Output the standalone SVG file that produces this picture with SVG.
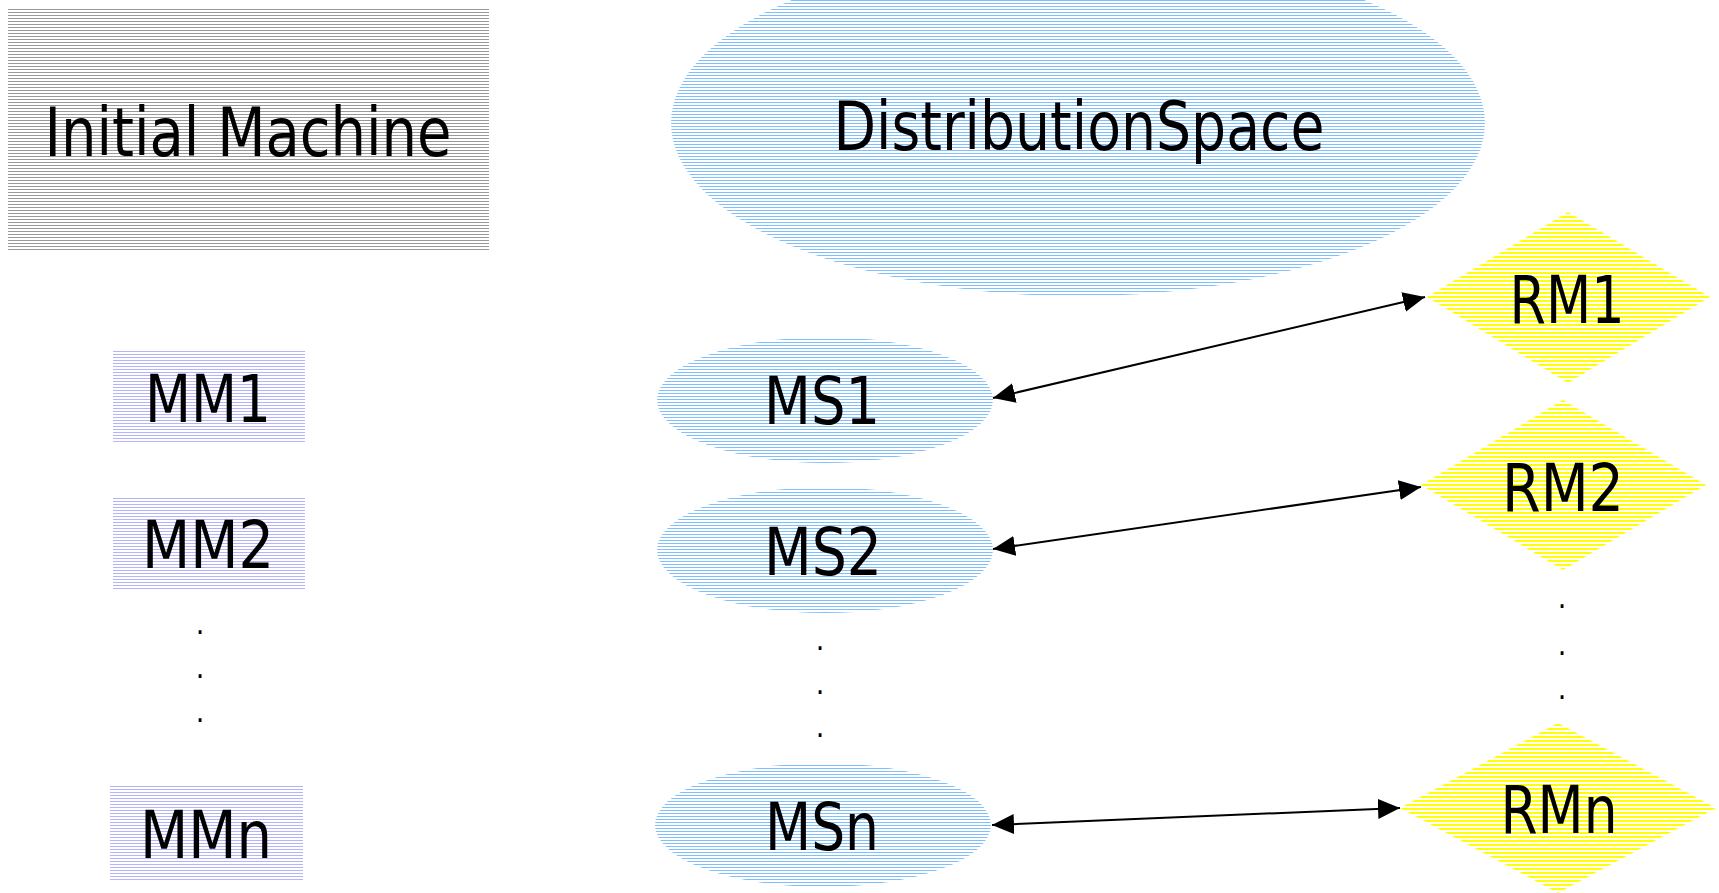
<svg xmlns="http://www.w3.org/2000/svg" width="1719" height="893" viewBox="0 0 1719 893">
<style>
text{font-family:"DejaVu Sans Condensed","DejaVu Sans",sans-serif;font-stretch:condensed;fill:#000;text-anchor:middle}
.big{font-size:67px}
.lbl{font-size:66px}
.dot{font-size:30px}
.conn{stroke:#000;stroke-width:2;fill:none;marker-start:url(#ah);marker-end:url(#ah)}
</style>
<defs>
<pattern id="pGray" patternUnits="userSpaceOnUse" width="8" height="3"><rect width="8" height="1" fill="#999999"/></pattern>
<pattern id="pBlue" patternUnits="userSpaceOnUse" width="8" height="3"><rect width="8" height="1" fill="#80bfff"/></pattern>
<pattern id="pLav" patternUnits="userSpaceOnUse" width="8" height="3"><rect width="8" height="1" fill="#b3b3ff"/></pattern>
<pattern id="pYel" patternUnits="userSpaceOnUse" width="8" height="4"><rect width="8" height="2" fill="#ffff00"/></pattern>
<marker id="ah" markerUnits="userSpaceOnUse" markerWidth="24" markerHeight="22" refX="22" refY="10" orient="auto-start-reverse" viewBox="0 0 24 22"><path d="M0,0 L22,10 L0,20 z" fill="#000"/></marker>
</defs>
<g id="initial-machine"><rect x="8" y="7" width="481" height="245" fill="url(#pGray)"/><text class="big" x="248" y="156" textLength="407" lengthAdjust="spacingAndGlyphs">Initial Machine</text></g>
<g id="distribution-space"><ellipse cx="1078" cy="123" rx="407" ry="173" fill="url(#pBlue)"/><text class="big" x="1079" y="150" textLength="491" lengthAdjust="spacingAndGlyphs">DistributionSpace</text></g>
<g id="mm1"><rect x="113" y="351" width="192" height="92" fill="url(#pLav)"/><text class="lbl" x="208" y="422" textLength="126" lengthAdjust="spacingAndGlyphs">MM1</text></g>
<g id="mm2"><rect x="113" y="496" width="192" height="93" fill="url(#pLav)"/><text class="lbl" x="208" y="568" textLength="132" lengthAdjust="spacingAndGlyphs">MM2</text></g>
<g id="mmn"><rect x="110" y="785" width="193" height="96" fill="url(#pLav)"/><text class="lbl" x="206" y="858" textLength="132" lengthAdjust="spacingAndGlyphs">MMn</text></g>
<g id="mm-dots"><text class="dot" x="200" y="634">.</text><text class="dot" x="200" y="678">.</text><text class="dot" x="200" y="722">.</text></g>
<g id="ms1"><ellipse cx="825" cy="400" rx="168" ry="63" fill="url(#pBlue)"/><text class="lbl" x="822" y="424" textLength="116" lengthAdjust="spacingAndGlyphs">MS1</text></g>
<g id="ms2"><ellipse cx="825" cy="550" rx="168" ry="63" fill="url(#pBlue)"/><text class="lbl" x="823" y="575" textLength="118" lengthAdjust="spacingAndGlyphs">MS2</text></g>
<g id="msn"><ellipse cx="823" cy="825" rx="168" ry="62" fill="url(#pBlue)"/><text class="lbl" x="822" y="850" textLength="114" lengthAdjust="spacingAndGlyphs">MSn</text></g>
<g id="ms-dots"><text class="dot" x="820" y="650">.</text><text class="dot" x="820" y="694">.</text><text class="dot" x="820" y="737">.</text></g>
<g id="rm1"><polygon points="1427,297 1568,212 1710,297 1568,383" fill="url(#pYel)"/><text class="lbl" x="1567" y="323" textLength="115" lengthAdjust="spacingAndGlyphs">RM1</text></g>
<g id="rm2"><polygon points="1421,485 1563,400 1706,485 1563,570" fill="url(#pYel)"/><text class="lbl" x="1563" y="511" textLength="122" lengthAdjust="spacingAndGlyphs">RM2</text></g>
<g id="rmn"><polygon points="1400,808 1558,723 1716,808 1558,893" fill="url(#pYel)"/><text class="lbl" x="1559" y="833" textLength="117" lengthAdjust="spacingAndGlyphs">RMn</text></g>
<g id="rm-dots"><text class="dot" x="1562" y="608">.</text><text class="dot" x="1562" y="655">.</text><text class="dot" x="1562" y="699">.</text></g>
<g id="connectors">
<line class="conn" x1="993" y1="398" x2="1425" y2="297"/>
<line class="conn" x1="993" y1="549" x2="1421" y2="487"/>
<line class="conn" x1="992" y1="825" x2="1400" y2="808"/>
</g>
</svg>
